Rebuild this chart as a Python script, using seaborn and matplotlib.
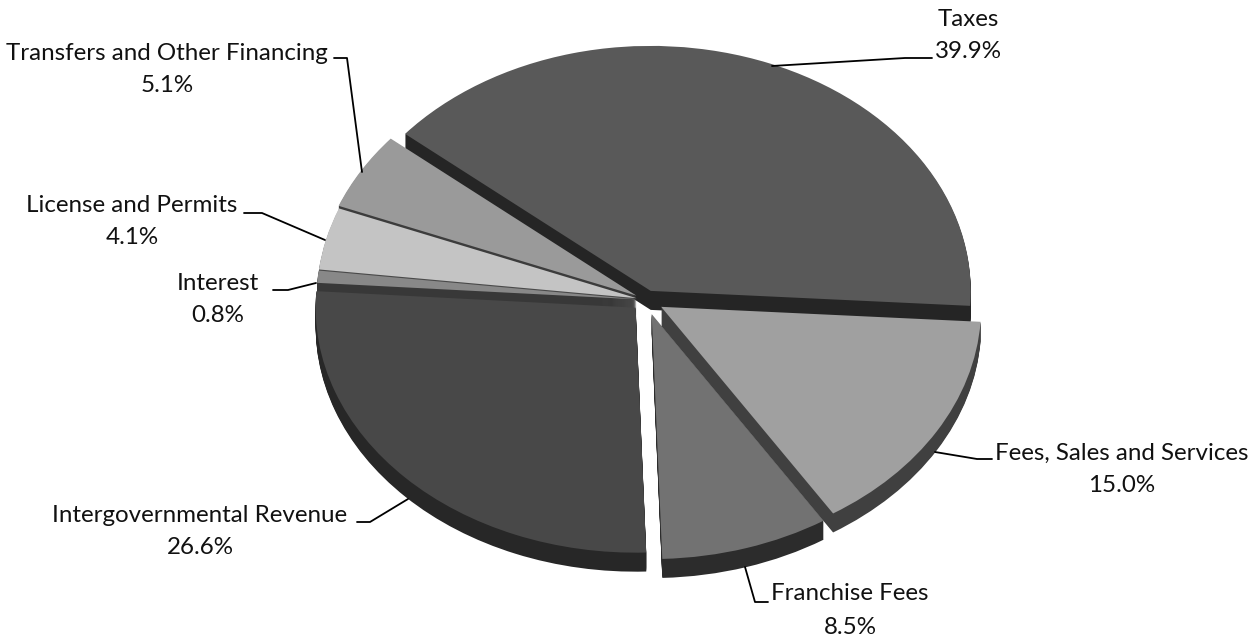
import matplotlib
matplotlib.use("Agg")
import matplotlib.pyplot as plt
import seaborn as sns

# Data (counter-clockwise from the Taxes slice)
categories = ["Taxes", "Transfers and Other Financing", "License and Permits", "Interest",
              "Intergovernmental Revenue", "Franchise Fees", "Fees, Sales and Services"]
shares = [39.9, 5.1, 4.1, 0.8, 26.6, 8.5, 15.0]

# Style
top_colors = ["#595959", "#9a9a9a", "#c4c4c4", "#888888", "#484848", "#727272", "#a0a0a0"]
wall_colors = ["#252525", "#3c3c3c", "#4a4a4a", "#383838", "#272727", "#2c2c2c", "#404040"]
explode = [0.04, 0.035, 0.03, 0.03, 0.045, 0.06, 0.055]
stack_order = [1, 2, 3, 4, 5, 6, 7]
START = -3.5
W, H = 1253, 640
CX, CY, RX, RY = 646, 300, 320, 245
DEPTH = 19

label_pos = [(968, 19, 52), (167, 54, 86), (132, 206, 238), (218, 284, 316),
             (200, 515, 547), (850, 594, 627), (1122, 453, 485)]
leaders = [[(772, 66), (905, 58), (932, 58)],
           [(362, 172), (347, 58), (334, 58)],
           [(325, 240), (262, 213), (244, 213)],
           [(316, 283), (288, 290), (273, 290)],
           [(408, 499), (370, 522), (357, 522)],
           [(745, 567), (755, 602), (768, 602)],
           [(935, 452), (977, 459), (992, 459)]]

sns.set_theme(style="white")
plt.rcParams["font.family"] = ["Lato", "DejaVu Sans"]

fig = plt.figure(figsize=(W / 100, H / 100), dpi=100)
ax = fig.add_axes([0, 0, 1, 1])

top_palette = sns.color_palette(top_colors)
wall_palette = sns.color_palette(wall_colors)

# Side walls: stacked copies of the pie stepping downward, then the top face
for step in range(DEPTH, -1, -1):
    palette = top_palette if step == 0 else wall_palette
    wedges, _ = ax.pie(shares, explode=explode, startangle=START, counterclock=True,
                       colors=palette, center=(0, -step / RY),
                       wedgeprops={"linewidth": 0})
    for wedge, order in zip(wedges, stack_order):
        wedge.set_zorder(order * 100 + (DEPTH - step))

ax.set_aspect("auto")
ax.set_xlim(-CX / RX, (W - CX) / RX)
ax.set_ylim((CY - H) / RY, CY / RY)
ax.set_axis_off()

# Overlay in pixel-like units for the labels and their leader lines
ov = fig.add_axes([0, 0, 1, 1], facecolor="none")
ov.set_xlim(0, W)
ov.set_ylim(H, 0)
ov.set_axis_off()

for name, share, (x, y1, y2), pts in zip(categories, shares, label_pos, leaders):
    ov.plot([p[0] for p in pts], [p[1] for p in pts], color="black", lw=1.3,
            solid_joinstyle="round")
    ov.text(x, y1, name, ha="center", va="center", fontsize=17.4, color="#111111")
    ov.text(x, y2, f"{share:.1f}%", ha="center", va="center", fontsize=17.4, color="#111111")

fig.savefig("out.png", dpi=100, facecolor="white")
